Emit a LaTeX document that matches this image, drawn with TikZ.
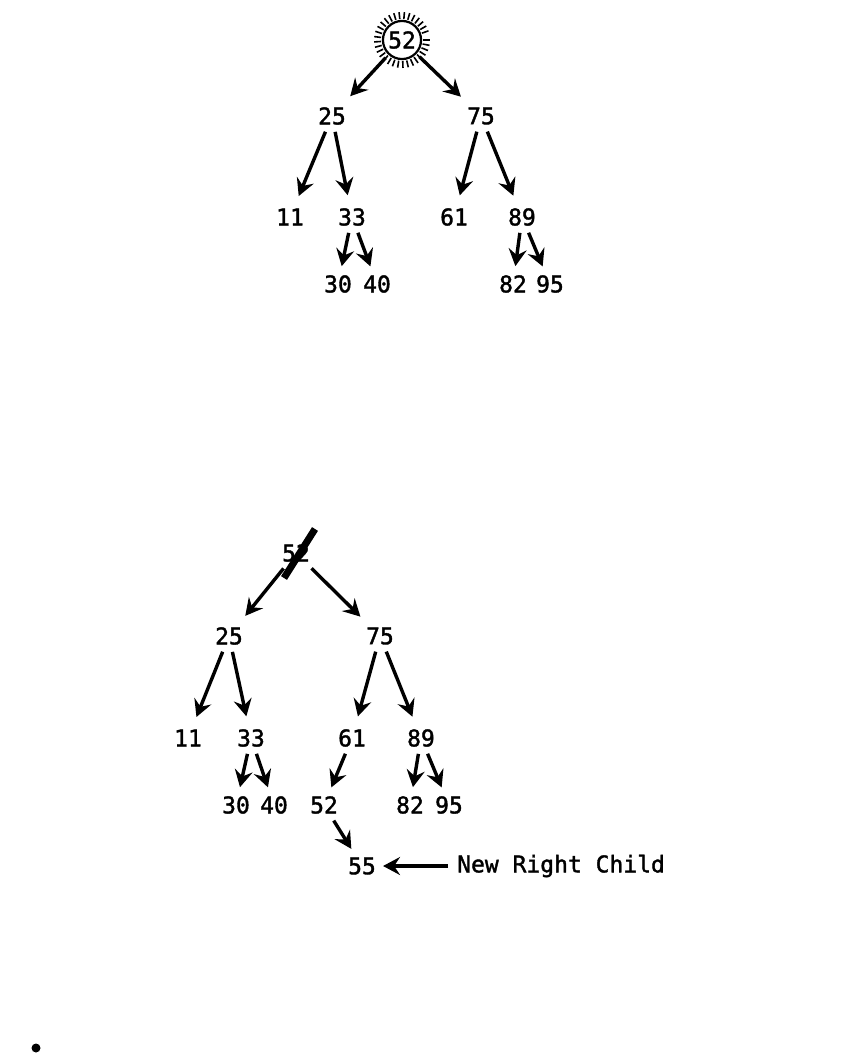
\documentclass[tikz,border=0pt]{standalone}
\usepackage{fontspec}
\setmainfont{DejaVu Sans Mono}
\usetikzlibrary{arrows.meta}

\begin{document}
\begin{tikzpicture}[x=1pt,y=-1pt,
  key/.style={inner sep=5pt,font=\fontsize{23}{28}\selectfont\addfontfeature{FakeBold=1.6}},
  arr/.style={-{Stealth[length=17pt,width=18pt,inset=6pt]},line width=3.4pt,shorten >=8pt,shorten <=2pt},
  lab/.style={anchor=west,inner sep=0pt,font=\fontsize{23}{28}\selectfont\addfontfeature{FakeBold=1.6}}]
\useasboundingbox (0,0) rectangle (843,1054);
% first tree
\node[key,circle,draw,line width=2.2pt,inner sep=2pt,minimum size=35pt] (r) at (402,40) {52};
\foreach \a in {0,11,...,350} { \draw[line width=1.6pt] (r.center) ++(\a:21) -- ++(\a:7); }
\node[key] (a25) at (332,116) {25};
\node[key] (a75) at (481,116) {75};
\node[key] (a11) at (290,217) {11};
\node[key] (a33) at (352,217) {33};
\node[key] (a61) at (454,217) {61};
\node[key] (a89) at (522,217) {89};
\node[key] (a30) at (338,284) {30};
\node[key] (a40) at (377,284) {40};
\node[key] (a82) at (513,284) {82};
\node[key] (a95) at (550,284) {95};
\draw[arr,shorten <=4pt] (r) -- (a25);
\draw[arr,shorten <=4pt] (r) -- (a75);
\draw[arr] (a25) -- (a11);
\draw[arr] (a25) -- (a33);
\draw[arr] (a75) -- (a61);
\draw[arr] (a75) -- (a89);
\draw[arr,shorten >=4pt] (a33) -- (a30);
\draw[arr,shorten >=4pt] (a33) -- (a40);
\draw[arr,shorten >=4pt] (a89) -- (a82);
\draw[arr,shorten >=4pt] (a89) -- (a95);
% second tree, root removed
\node[key] (s) at (296,553) {52};
\draw[line width=7pt] (284,578) -- (315,529);
\node[key] (b25) at (229,636) {25};
\node[key] (b75) at (380,636) {75};
\node[key] (b11) at (188,738) {11};
\node[key] (b33) at (251,738) {33};
\node[key] (b61) at (352,738) {61};
\node[key] (b89) at (421,738) {89};
\node[key] (b30) at (236,805) {30};
\node[key] (b40) at (274,805) {40};
\node[key] (b52) at (324,805) {52};
\node[key] (b82) at (410,805) {82};
\node[key] (b95) at (449,805) {95};
\node[key] (b55) at (362,866) {55};
\node[lab] (new) at (457,866) {New Right Child};
\draw[arr] (s) -- (b25);
\draw[arr] (s) -- (b75);
\draw[arr] (b25) -- (b11);
\draw[arr] (b25) -- (b33);
\draw[arr] (b75) -- (b61);
\draw[arr] (b75) -- (b89);
\draw[arr,shorten >=4pt] (b33) -- (b30);
\draw[arr,shorten >=4pt] (b33) -- (b40);
\draw[arr,shorten >=4pt] (b61) -- (b52);
\draw[arr,shorten >=4pt] (b89) -- (b82);
\draw[arr,shorten >=4pt] (b89) -- (b95);
\draw[arr,shorten >=4pt] (b52) -- (b55);
\draw[arr,shorten <=9pt,shorten >=2pt] (new.west) -- (b55);
\fill (36,1048) circle (4.5);
\end{tikzpicture}
\end{document}
